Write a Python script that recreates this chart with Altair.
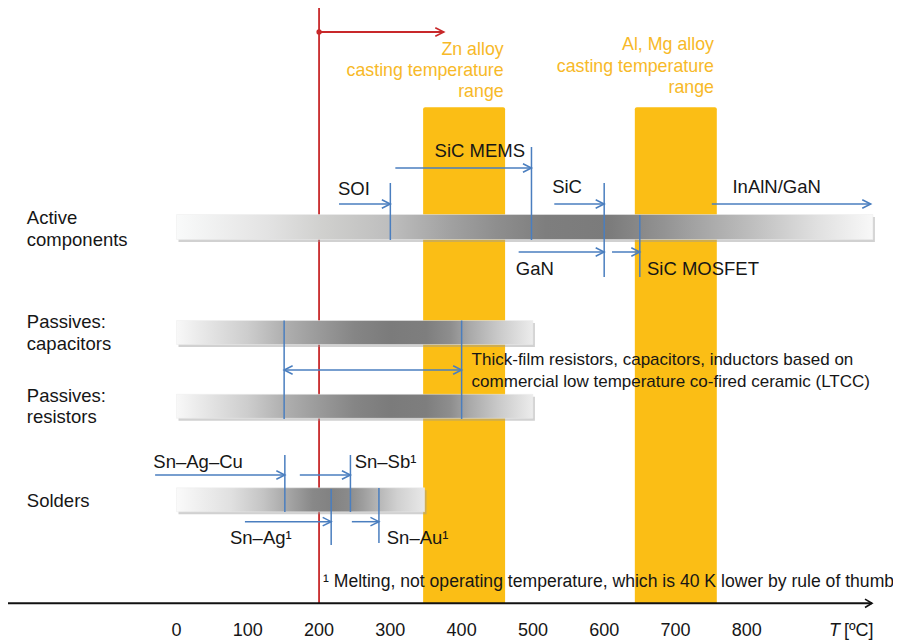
import altair as alt
import pandas as pd

FONT = "Liberation Sans"
BLUE = "#4a7ebf"
RED = "#c8282a"
YELLOW = "#fbbe15"
YELLOW_TXT = "#f7b928"
INK = "#161616"

# ---------------- data (temperatures in degC) ----------------
tick_values = [0, 100, 200, 300, 400, 500, 600, 700, 800]

band_names = ["Zn alloy", "Al, Mg alloy"]
band_start = [346, 643]
band_end = [461, 758]

limit_temp = 200
limit_arrow_end = 375

bar_names = ["Active components", "Passives: capacitors", "Passives: resistors", "Solders"]
bar_start = [0, 0, 0, 0]
bar_end = [977, 500, 500, 348]

active_labels = ["SOI", "SiC MEMS", "SiC", "InAlN/GaN", "GaN", "SiC MOSFET"]
active_from = [228, 307, 530, 751, 480, 611]
active_to = [300, 498, 600, 974, 600, 650]
active_marks = [300, 498, 600, 650]

passive_low = 151
passive_high = 400

solder_labels = ["Sn–Ag–Cu", "Sn–Sb¹", "Sn–Ag¹", "Sn–Au¹"]
solder_from = [-30, 173, 96, 246]
solder_to = [152, 244, 217, 284]

# ---------------- layout (page rows, pixels) ----------------
W, H = 885, 633
PX_PER_DEG = 0.7128
ZERO_PX = 176.5 - 8
XMIN = -ZERO_PX / PX_PER_DEG
XMAX = XMIN + W / PX_PER_DEG
AXIS_Y = 603.3
BAND_TOP = 107.3
TICK_BASE = 636.0 - 8

X_SCALE = alt.Scale(domain=[XMIN, XMAX], nice=False, zero=False)
Y_SCALE = alt.Scale(domain=[8, 8 + H], reverse=True, nice=False, zero=False)


def X(f="x"):
    return alt.X(f"{f}:Q", scale=X_SCALE, axis=None)


def Y(f="y"):
    return alt.Y(f"{f}:Q", scale=Y_SCALE, axis=None)


layers = []

# yellow casting bands
bands_df = pd.DataFrame({"name": band_names, "x": band_start, "x2": band_end,
                         "y": [BAND_TOP] * 2, "y2": [AXIS_Y] * 2})
layers.append(alt.Chart(bands_df).mark_rect(color=YELLOW, cornerRadiusTopLeft=2, cornerRadiusTopRight=2)
              .encode(x=X(), x2="x2:Q", y=Y(), y2="y2:Q"))

# red limit line + arrow
red_v = pd.DataFrame({"x": [limit_temp], "y": [8], "y2": [AXIS_Y]})
layers.append(alt.Chart(red_v).mark_rule(color=RED, strokeWidth=1.8).encode(x=X(), y=Y(), y2="y2:Q"))
red_h = pd.DataFrame({"x": [limit_temp], "x2": [limit_arrow_end], "y": [32]})
layers.append(alt.Chart(red_h).mark_rule(color=RED, strokeWidth=1.8).encode(x=X(), x2="x2:Q", y=Y()))
layers.append(alt.Chart(pd.DataFrame({"x": [limit_arrow_end], "y": [32]}))
              .mark_point(shape="M-1,-0.5L0,0L-1,0.5", size=289, filled=False, color=RED, strokeWidth=1.6, opacity=1)
              .encode(x=X(), y=Y()))
layers.append(alt.Chart(pd.DataFrame({"x": [limit_temp], "y": [32]}))
              .mark_point(shape="circle", size=28, filled=True, color=RED, opacity=1)
              .encode(x=X(), y=Y()))

# gradient bars
bar_rows = [(214.5, 239.5), (320.5, 344.5), (394.3, 418.3), (487.8, 511.8)]
grad_stops = [
    [(0, "#f9fafa"), (0.13, "#e3e3e3"), (0.21, "#d0d0ce"), (0.31, "#bdbdbd"), (0.39, "#a2a2a2"),
     (0.46, "#8e8e8e"), (0.53, "#7e7e7e"), (0.62, "#7b7b7b"), (0.70, "#939393"), (0.73, "#9e9e9e"),
     (0.82, "#bcbcbc"), (0.92, "#e0e0e0"), (1.0, "#f8f8f8")],
    [(0, "#f8f8f8"), (0.11, "#e0e0e0"), (0.2, "#cdcdcd"), (0.3, "#b0b0b0"), (0.4, "#9a9a9a"),
     (0.5, "#858585"), (0.6, "#7b7b7b"), (0.7, "#7e7e7e"), (0.77, "#8e8e8e"), (0.82, "#a8a8a8"),
     (0.9, "#c8c8c8"), (1.0, "#ececec")],
    [(0, "#f8f8f8"), (0.11, "#e0e0e0"), (0.2, "#cdcdcd"), (0.3, "#b0b0b0"), (0.4, "#9a9a9a"),
     (0.5, "#858585"), (0.6, "#7b7b7b"), (0.7, "#7e7e7e"), (0.77, "#8e8e8e"), (0.82, "#a8a8a8"),
     (0.9, "#c8c8c8"), (1.0, "#ececec")],
    [(0, "#fafafa"), (0.22, "#e0e0e0"), (0.35, "#c4c4c4"), (0.49, "#9a9a9a"), (0.55, "#888888"),
     (0.62, "#828282"), (0.69, "#8a8a8a"), (0.75, "#9d9d9d"), (0.82, "#b8b8b8"), (0.89, "#d0d0d0"),
     (1.0, "#e8e8e8")],
]
for name, x0, x1, (yt, yb), stops in zip(bar_names, bar_start, bar_end, bar_rows, grad_stops):
    df = pd.DataFrame({"name": [name], "x": [x0], "x2": [x1], "y": [yt], "y2": [yb]})
    layers.append(alt.Chart(df).mark_rect(color="#9a9a9a", opacity=0.45, xOffset=2, x2Offset=2,
                                          yOffset=2.5, y2Offset=2.5)
                  .encode(x=X(), x2="x2:Q", y=Y(), y2="y2:Q"))
    grad = alt.LinearGradient(gradient="linear", x1=0, x2=1, y1=0, y2=0,
                              stops=[alt.GradientStop(offset=o, color=c) for o, c in stops])
    layers.append(alt.Chart(df).mark_rect(color=grad, stroke="#ececec", strokeWidth=0.5)
                  .encode(x=X(), x2="x2:Q", y=Y(), y2="y2:Q"))

# blue vertical markers
v_x = active_marks + [passive_low, passive_high] + [solder_to[0], solder_to[1], solder_to[2], solder_to[3]]
v_top = [183, 147, 183, 215, 320.5, 320.5, 455, 455, 489, 488]
v_bot = [240, 240, 277, 277, 419, 419, 512, 512, 545, 543]
vdf = pd.DataFrame({"x": v_x, "y": v_top, "y2": v_bot})
layers.append(alt.Chart(vdf).mark_rule(color=BLUE, strokeWidth=1.5).encode(x=X(), y=Y(), y2="y2:Q"))

# blue arrows
a_from = active_from + [passive_low] + solder_from
a_to = active_to + [passive_high] + solder_to
a_y = [204, 168, 204, 204, 252, 252, 370, 475, 475, 521.7, 521.7]
adf = pd.DataFrame({"x": a_from, "x2": a_to, "y": a_y})
layers.append(alt.Chart(adf).mark_rule(color=BLUE, strokeWidth=1.5).encode(x=X(), x2="x2:Q", y=Y()))
head_df = pd.DataFrame({"x": a_to + [passive_low], "y": a_y + [370], "angle": [0] * len(a_to) + [180]})
layers.append(alt.Chart(head_df)
              .mark_point(shape="M-1,-0.5L0,0L-1,0.5", size=289, filled=False, color=BLUE, strokeWidth=1.5, opacity=1)
              .encode(x=X(), y=Y(), angle=alt.Angle("angle:Q", scale=None)))

# black labels
CAT_X = -210
txt = [
    ("Active", CAT_X, 224.3, "left", 18.5), ("components", CAT_X, 245.7, "left", 18.5),
    ("Passives:", CAT_X, 328.3, "left", 18.5), ("capacitors", CAT_X, 349.5, "left", 18.5),
    ("Passives:", CAT_X, 401.7, "left", 18.5), ("resistors", CAT_X, 423, "left", 18.5),
    ("Solders", CAT_X, 506.7, "left", 18.5),
    (active_labels[0], 226.6, 195, "left", 18.5), (active_labels[1], 489, 157.3, "right", 18.5),
    (active_labels[2], 527, 193.3, "left", 18.5), (active_labels[3], 780, 193.3, "left", 18.5),
    (active_labels[4], 476, 275, "left", 18.5), (active_labels[5], 660, 275, "left", 18.5),
    ("Thick-film resistors, capacitors, inductors based on", 414, 365.3, "left", 17),
    ("commercial low temperature  co-fired ceramic (LTCC)", 414, 386.5, "left", 17),
    (solder_labels[0], -32.5, 467.7, "left", 18.5), (solder_labels[1], 250, 467.7, "left", 18.5),
    (solder_labels[2], 75, 544, "left", 18.5), (solder_labels[3], 295, 544, "left", 18.5),
    ("¹ Melting, not operating temperature, which is 40 K lower by rule of thumb", 205.5, 586.5, "left", 17.6),
]
for al in ["left", "right"]:
    for fs in sorted(set(t[4] for t in txt)):
        rows = [t for t in txt if t[3] == al and t[4] == fs]
        if not rows:
            continue
        df = pd.DataFrame({"text": [r[0] for r in rows], "x": [r[1] for r in rows], "y": [r[2] for r in rows]})
        layers.append(alt.Chart(df).mark_text(align=al, baseline="alphabetic", font=FONT, fontSize=fs, color=INK)
                      .encode(x=X(), y=Y(), text="text:N"))

# yellow band titles
ytxt = pd.DataFrame({
    "text": ["Zn alloy", "casting temperature", "range", "Al, Mg alloy", "casting temperature", "range"],
    "x": [459, 459, 459, 754, 754, 754],
    "y": [55, 76, 97, 50, 71.7, 93.3],
})
layers.append(alt.Chart(ytxt).mark_text(align="right", baseline="alphabetic", font=FONT, fontSize=17.8, color=YELLOW_TXT)
              .encode(x=X(), y=Y(), text="text:N"))

# axis line, arrow, tick labels, title
layers.append(alt.Chart(pd.DataFrame({"a": [0]})).mark_rule(color="#111", strokeWidth=2)
              .encode(x=alt.value(0), x2=alt.value(864), y=alt.value(AXIS_Y - 8)))
layers.append(alt.Chart(pd.DataFrame({"a": [0]}))
              .mark_point(shape="M-1,-0.6L0,0L-1,0.6", size=196, filled=False, color="#111", strokeWidth=1.6, opacity=1)
              .encode(x=alt.value(864), y=alt.value(AXIS_Y - 8)))
tick_df = pd.DataFrame({"x": tick_values, "label": [str(v) for v in tick_values]})
layers.append(alt.Chart(tick_df).mark_text(align="center", baseline="alphabetic", font=FONT, fontSize=18, color=INK)
              .encode(x=X(), y=alt.value(TICK_BASE), text="label:N"))
layers.append(alt.Chart(pd.DataFrame({"t": ["T"]}))
              .mark_text(align="left", baseline="alphabetic", font=FONT, fontSize=18, fontStyle="italic", color=INK)
              .encode(x=alt.value(821), y=alt.value(TICK_BASE), text="t:N"))
layers.append(alt.Chart(pd.DataFrame({"t": ["[ºC]"]}))
              .mark_text(align="left", baseline="alphabetic", font=FONT, fontSize=18, color=INK)
              .encode(x=alt.value(836), y=alt.value(TICK_BASE), text="t:N"))

chart = (alt.layer(*layers)
         .properties(width=W, height=H, padding=0, autosize=alt.AutoSizeParams(type="none"), background="white")
         .configure_view(stroke=None))

chart.save("out.html", embed_options={"renderer": "svg", "actions": False})
